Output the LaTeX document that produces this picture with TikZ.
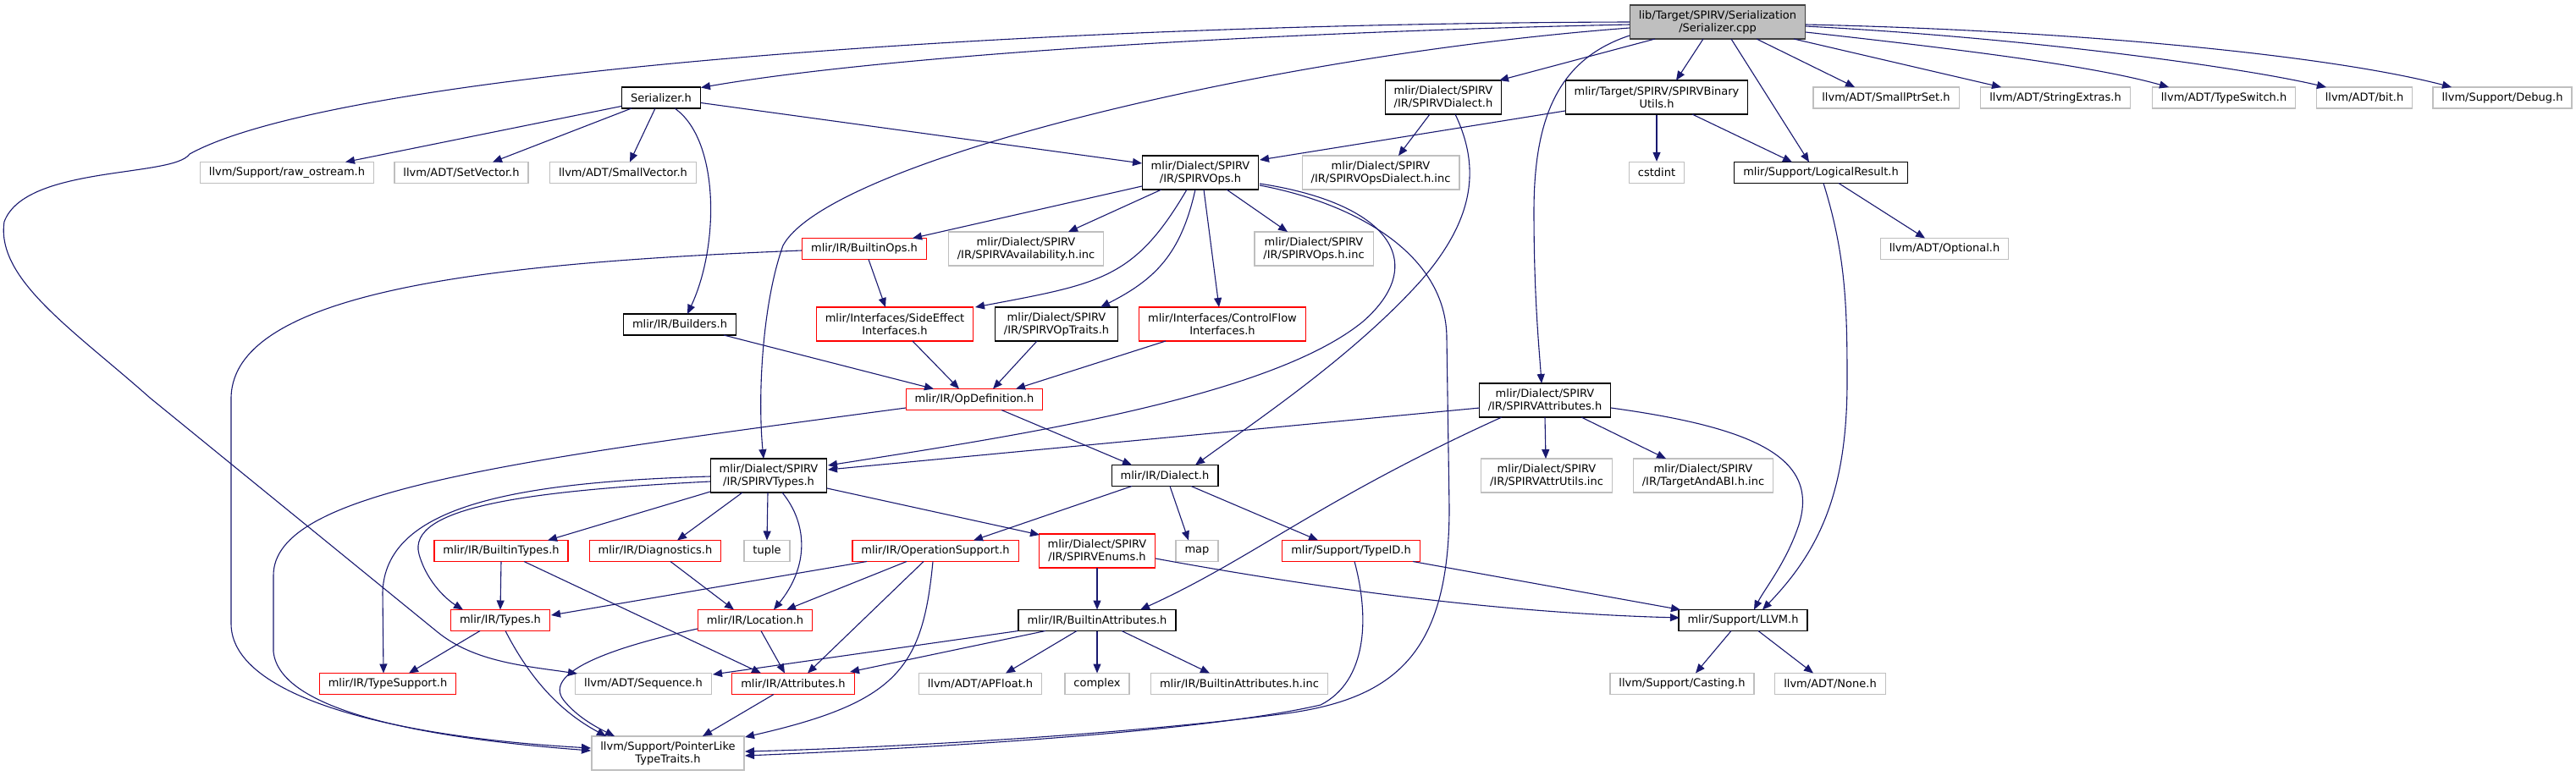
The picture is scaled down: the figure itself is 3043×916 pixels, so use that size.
\documentclass[tikz,border=0pt]{standalone}
\usepackage{fontspec}
\setmainfont{DejaVu Sans}
\usetikzlibrary{arrows.meta,calc}
\definecolor{edgec}{HTML}{191970}
\definecolor{greyb}{HTML}{BFBFBF}
\definecolor{redb}{HTML}{FF0000}
\definecolor{rootf}{HTML}{BFBFBF}
\definecolor{rootb}{HTML}{404040}
\begin{document}
\begin{tikzpicture}[x=1pt,y=-1pt,
  box/.style={rectangle, draw, line width=1.3pt, fill=white, text=black,
    font=\fontsize{13}{15}\selectfont, inner xsep=10.5pt, inner ysep=4pt,
    minimum height=25pt, align=center},
  doc/.style={box, draw=black},
  trunc/.style={box, draw=redb},
  undoc/.style={box, draw=greyb},
  rootn/.style={box, draw=rootb, fill=rootf},
  two/.style={minimum height=40pt},
  e/.style={draw=edgec, line width=1.1pt, -{Triangle[length=11pt,width=9pt]}}
]
\useasboundingbox (0,0) rectangle (3043,916);
\fill[white] (0,0) rectangle (3043,916);

% nodes
\node[rootn,two] (root) at (2029,26) {lib/Target/SPIRV/Serialization\\/Serializer.cpp};
\node[doc] (serh) at (781,115.5) {Serializer.h};
\node[doc,two] (dial) at (1705,115) {mlir/Dialect/SPIRV\\/IR/SPIRVDialect.h};
\node[doc,two] (binu) at (1957,115) {mlir/Target/SPIRV/SPIRVBinary\\Utils.h};
\node[undoc] (sptr) at (2228,115.5) {llvm/ADT/SmallPtrSet.h};
\node[undoc] (strx) at (2428,115.5) {llvm/ADT/StringExtras.h};
\node[undoc] (tswi) at (2627,115.5) {llvm/ADT/TypeSwitch.h};
\node[undoc] (bit) at (2793,115.5) {llvm/ADT/bit.h};
\node[undoc] (dbg) at (2956,115.5) {llvm/Support/Debug.h};
\node[undoc] (raw) at (339,204) {llvm/Support/raw\_ostream.h};
\node[undoc] (setv) at (545,204) {llvm/ADT/SetVector.h};
\node[undoc] (smv) at (736,204) {llvm/ADT/SmallVector.h};
\node[doc,two] (ops) at (1418,204) {mlir/Dialect/SPIRV\\/IR/SPIRVOps.h};
\node[undoc,two] (odinc) at (1631,204) {mlir/Dialect/SPIRV\\/IR/SPIRVOpsDialect.h.inc};
\node[undoc] (cstd) at (1957,204) {cstdint};
\node[doc] (logr) at (2151,204) {mlir/Support/LogicalResult.h};
\node[trunc] (bops) at (1021,294) {mlir/IR/BuiltinOps.h};
\node[undoc,two] (avail) at (1212,294) {mlir/Dialect/SPIRV\\/IR/SPIRVAvailability.h.inc};
\node[undoc,two] (opsinc) at (1552,294) {mlir/Dialect/SPIRV\\/IR/SPIRVOps.h.inc};
\node[undoc] (opt) at (2297,294) {llvm/ADT/Optional.h};
\node[doc] (bld) at (803,383.5) {mlir/IR/Builders.h};
\node[trunc,two] (sidef) at (1057,383) {mlir/Interfaces/SideEffect\\Interfaces.h};
\node[doc,two] (optr) at (1248,383) {mlir/Dialect/SPIRV\\/IR/SPIRVOpTraits.h};
\node[trunc,two] (cflow) at (1444,383) {mlir/Interfaces/ControlFlow\\Interfaces.h};
\node[trunc] (opdef) at (1151,472) {mlir/IR/OpDefinition.h};
\node[doc,two] (attrs) at (1825,473) {mlir/Dialect/SPIRV\\/IR/SPIRVAttributes.h};
\node[doc,two] (types) at (908,562) {mlir/Dialect/SPIRV\\/IR/SPIRVTypes.h};
\node[doc] (dialh) at (1376,562) {mlir/IR/Dialect.h};
\node[undoc,two] (autil) at (1827,562) {mlir/Dialect/SPIRV\\/IR/SPIRVAttrUtils.inc};
\node[undoc,two] (tabi) at (2012,562) {mlir/Dialect/SPIRV\\/IR/TargetAndABI.h.inc};
\node[trunc] (btyp) at (592,651) {mlir/IR/BuiltinTypes.h};
\node[trunc] (diag) at (774,651) {mlir/IR/Diagnostics.h};
\node[undoc] (tuple) at (906,651) {tuple};
\node[trunc] (opsup) at (1105,651) {mlir/IR/OperationSupport.h};
\node[trunc,two] (enums) at (1296,651) {mlir/Dialect/SPIRV\\/IR/SPIRVEnums.h};
\node[undoc] (map) at (1414,651) {map};
\node[trunc] (tid) at (1596,651) {mlir/Support/TypeID.h};
\node[trunc] (typh) at (591,733) {mlir/IR/Types.h};
\node[trunc] (loc) at (892,733) {mlir/IR/Location.h};
\node[doc] (battr) at (1296,733) {mlir/IR/BuiltinAttributes.h};
\node[doc] (llvmh) at (2059,733) {mlir/Support/LLVM.h};
\node[trunc] (tsup) at (458,808) {mlir/IR/TypeSupport.h};
\node[undoc] (seq) at (760,808) {llvm/ADT/Sequence.h};
\node[trunc] (attr) at (937,808) {mlir/IR/Attributes.h};
\node[undoc] (apf) at (1158,808) {llvm/ADT/APFloat.h};
\node[undoc] (cplx) at (1296,808) {complex};
\node[undoc] (bainc) at (1464,808) {mlir/IR/BuiltinAttributes.h.inc};
\node[undoc] (cast) at (1987,808) {llvm/Support/Casting.h};
\node[undoc] (none) at (2162,808) {llvm/ADT/None.h};
\node[undoc,two] (ptr) at (789,890) {llvm/Support/PointerLike\\TypeTraits.h};

% edges from root
\draw[e] ($(root)+(-104,3)$) .. controls (1500,38) and (1050,65) .. ($(serh)+(47,-12)$);
\draw[e] ($(root)+(-104,0)$) .. controls (1200,28) and (400,85) .. (224,182)
  .. controls (205,210) and (30,195) .. (5,262)
  .. controls (-5,330) and (87,390) .. (177,470) -- (517,747)
  .. controls (560,782) and (620,787) .. ($(seq)+(-78,-12)$);
\draw[e] ($(root)+(-104,7)$) .. controls (1500,65) and (980,190) .. (925,290)
  .. controls (900,360) and (895,470) .. ($(types)+(-6,-20)$);
\draw[e] ($(root)+(-74,20)$) -- ($(dial)+(66,-20)$);
\draw[e] ($(root)+(-17,20)$) -- ($(binu)+(23,-20)$);
\draw[e] ($(root)+(-104,16)$) .. controls (1840,70) and (1812,140) .. (1812,250)
  .. controls (1812,350) and (1818,410) .. ($(attrs)+(-4,-20)$);
\draw[e] ($(root)+(16,20)$) -- ($(logr)+(-14,-12.5)$);
\draw[e] ($(root)+(46,20)$) -- ($(sptr)+(-37,-12.5)$);
\draw[e] ($(root)+(90,20)$) -- ($(strx)+(-64,-12.5)$);
\draw[e] ($(root)+(104,12)$) .. controls (2350,62) and (2480,80) .. ($(tswi)+(-65,-12.5)$);
\draw[e] ($(root)+(104,5)$) .. controls (2400,45) and (2650,80) .. ($(bit)+(-45,-12.5)$);
\draw[e] ($(root)+(104,3)$) .. controls (2450,36) and (2750,65) .. ($(dbg)+(-60,-12.5)$);

% Serializer.h
\draw[e] ($(serh)+(-47,10)$) -- ($(raw)+(69,-12.5)$);
\draw[e] ($(serh)+(-35,12.5)$) -- ($(setv)+(37,-12.5)$);
\draw[e] ($(serh)+(-7,12.5)$) -- ($(smv)+(8,-12.5)$);
\draw[e] ($(serh)+(16,12.5)$) .. controls (850,165) and (850,290) .. ($(bld)+(9,-12.5)$);
\draw[e] ($(serh)+(47,6)$) -- ($(ops)+(-69,-11)$);

% SPIRVDialect.h
\draw[e] ($(dial)+(-16,20)$) -- ($(odinc)+(21,-20)$);
\draw[e] ($(dial)+(14,20)$) .. controls (1750,200) and (1740,260) .. (1680,330)
  .. controls (1600,420) and (1480,500) .. ($(dialh)+(36,-12.5)$);

% SPIRVBinaryUtils.h
\draw[e] ($(binu)+(-108,16)$) -- ($(ops)+(70,-15)$);
\draw[e] (binu.south) -- (cstd.north);
\draw[e] ($(binu)+(42,20)$) -- ($(logr)+(-34,-12.5)$);

% LogicalResult.h
\draw[e] ($(logr)+(21,12.5)$) -- ($(opt)+(-23,-12.5)$);
\draw[e] ($(logr)+(3,12.5)$) .. controls (2180,300) and (2182,360) .. (2182,450)
  .. controls (2182,580) and (2150,650) .. ($(llvmh)+(23,-12.5)$);

% SPIRVOps.h
\draw[e] ($(ops)+(-69,16)$) -- ($(bops)+(57,-12.5)$);
\draw[e] ($(ops)+(-46,20)$) -- ($(avail)+(50,-20)$);
\draw[e] ($(ops)+(31,20)$) -- ($(opsinc)+(-31,-20)$);
\draw[e] ($(ops)+(-16,20)$) .. controls (1340,330) and (1300,335) .. ($(sidef)+(95,-20)$);
\draw[e] ($(ops)+(-6,20)$) .. controls (1395,300) and (1365,330) .. ($(optr)+(52,-20)$);
\draw[e] ($(ops)+(4,20)$) -- ($(cflow)+(-4,-20)$);
\draw[e] ($(ops)+(70,13)$) .. controls (1640,240) and (1690,310) .. (1610,380)
  .. controls (1500,470) and (1200,515) .. ($(types)+(70,-12)$);
\draw[e] ($(ops)+(70,15)$) .. controls (1600,240) and (1709,300) .. (1709,400)
  -- (1712,600) .. controls (1712,770) and (1650,825) .. (1520,843)
  .. controls (1300,872) and (1000,885) .. ($(ptr)+(91,-2)$);

% BuiltinOps.h
\draw[e] ($(bops)+(5,12.5)$) -- ($(sidef)+(-11,-20)$);
\draw[e] ($(bops)+(-74,2)$) .. controls (600,310) and (275,340) .. (273,470)
  -- (273,737) .. controls (273,820) and (450,870) .. ($(ptr)+(-91,-6)$);

% into OpDefinition.h
\draw[e] ($(bld)+(52,12.5)$) -- ($(opdef)+(-48,-12.5)$);
\draw[e] ($(sidef)+(21,20)$) -- ($(opdef)+(-18,-12.5)$);
\draw[e] ($(optr)+(-23,20)$) -- ($(opdef)+(22,-12.5)$);
\draw[e] ($(cflow)+(-67,20)$) -- ($(opdef)+(49,-12.5)$);

% OpDefinition.h
\draw[e] ($(opdef)+(-81,10)$) .. controls (600,545) and (323,580) .. (323,680)
  -- (323,770) .. controls (330,840) and (500,872) .. ($(ptr)+(-91,-3)$);
\draw[e] ($(opdef)+(32,12.5)$) -- ($(dialh)+(-39,-12.5)$);

% SPIRVAttributes.h
\draw[e] ($(attrs)+(-77,9)$) -- ($(types)+(70,-7)$);
\draw[e] ($(attrs)+(-51,20)$) .. controls (1560,590) and (1480,660) .. ($(battr)+(51,-12.5)$);
\draw[e] ($(attrs)+(0,20)$) -- ($(autil)+(-1,-20)$);
\draw[e] ($(attrs)+(43,20)$) -- ($(tabi)+(-44,-20)$);
\draw[e] ($(attrs)+(78,9)$) .. controls (2070,505) and (2150,540) .. (2125,620)
  .. controls (2110,665) and (2085,695) .. ($(llvmh)+(13,-12.5)$);

% SPIRVTypes.h
\draw[e] ($(types)+(-69,1)$) .. controls (600,570) and (455,600) .. (452,700)
  -- ($(tsup)+(-5,-12.5)$);
\draw[e] ($(types)+(-69,7)$) .. controls (620,580) and (480,600) .. (495,655)
  .. controls (505,690) and (530,710) .. ($(typh)+(-44,-12.5)$);
\draw[e] ($(types)+(-69,19)$) -- ($(btyp)+(55,-12.5)$);
\draw[e] ($(types)+(-31,20)$) -- ($(diag)+(26,-12.5)$);
\draw[e] ($(types)+(-1,20)$) -- ($(tuple)+(0,-12.5)$);
\draw[e] ($(types)+(16,20)$) .. controls (955,620) and (955,670) .. ($(loc)+(22,-12.5)$);
\draw[e] ($(types)+(69,15)$) -- ($(enums)+(-68,-19)$);

% Dialect.h
\draw[e] ($(dialh)+(-39,12.5)$) -- ($(opsup)+(45,-12.5)$);
\draw[e] ($(dialh)+(6,12.5)$) -- ($(map)+(-10,-12.5)$);
\draw[e] ($(dialh)+(31,12.5)$) -- ($(tid)+(-39,-12.5)$);

% BuiltinTypes.h, Diagnostics.h
\draw[e] ($(btyp)+(0,12.5)$) -- ($(typh)+(0,-12.5)$);
\draw[e] ($(btyp)+(27,12.5)$) -- ($(attr)+(-38,-12.5)$);
\draw[e] ($(diag)+(18,12.5)$) -- ($(loc)+(-25,-12.5)$);

% OperationSupport.h
\draw[e] ($(opsup)+(-81,12.5)$) -- ($(typh)+(60,-6)$);
\draw[e] ($(opsup)+(-34,12.5)$) -- ($(loc)+(37,-12.5)$);
\draw[e] ($(opsup)+(-14,12.5)$) -- ($(attr)+(17,-12.5)$);
\draw[e] ($(opsup)+(-3,12.5)$) .. controls (1090,790) and (1060,830) .. ($(ptr)+(91,-19)$);

% SPIRVEnums.h, TypeID.h
\draw[e] ($(enums)+(0,20)$) -- ($(battr)+(0,-12.5)$);
\draw[e] ($(enums)+(69,9)$) .. controls (1600,703) and (1800,725) .. ($(llvmh)+(-75,-3)$);
\draw[e] ($(tid)+(73,12.5)$) -- ($(llvmh)+(-74,-12.5)$);
\draw[e] ($(tid)+(4,12.5)$) .. controls (1618,730) and (1615,805) .. (1560,833)
  .. controls (1400,870) and (1000,888) .. ($(ptr)+(91,3)$);

% Types.h, Location.h
\draw[e] ($(typh)+(-24,12.5)$) -- ($(tsup)+(25,-12.5)$);
\draw[e] ($(typh)+(6,12.5)$) .. controls (625,800) and (660,840) .. ($(ptr)+(-73,-20)$);
\draw[e] ($(loc)+(7,12.5)$) -- ($(attr)+(-10,-12.5)$);
\draw[e] ($(loc)+(-68,10)$) .. controls (700,770) and (640,800) .. (668,830)
  .. controls (685,850) and (710,862) .. ($(ptr)+(-63,-20)$);

% BuiltinAttributes.h
\draw[e] ($(battr)+(-93,12.5)$) -- ($(seq)+(82,-11)$);
\draw[e] ($(battr)+(-61,12.5)$) -- ($(attr)+(67,-14)$);
\draw[e] ($(battr)+(-24,12.5)$) -- ($(apf)+(30,-12.5)$);
\draw[e] ($(battr)+(0,12.5)$) -- ($(cplx)+(0,-12.5)$);
\draw[e] ($(battr)+(29,12.5)$) -- ($(bainc)+(-35,-12.5)$);

% Attributes.h, LLVM.h
\draw[e] ($(attr)+(-23,12.5)$) -- ($(ptr)+(41,-20)$);
\draw[e] ($(llvmh)+(-14,12.5)$) -- ($(cast)+(16,-12.5)$);
\draw[e] ($(llvmh)+(18,12.5)$) -- ($(none)+(-20,-12.5)$);
\end{tikzpicture}
\end{document}
